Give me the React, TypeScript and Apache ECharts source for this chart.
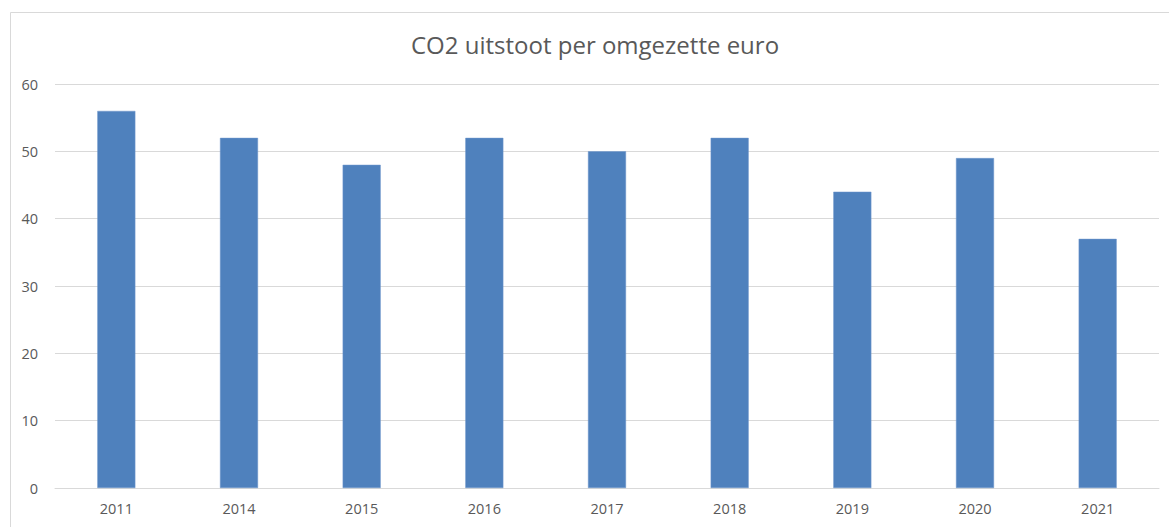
import React, { useEffect, useRef } from "react";
import * as echarts from "echarts";

const categories = ["2011", "2014", "2015", "2016", "2017", "2018", "2019", "2020", "2021"];
const values = [56, 52, 48, 52, 50, 52, 44, 49, 37];
const titleText = "CO2 uitstoot per omgezette euro";

export default function App() {
  const ref = useRef<HTMLDivElement>(null);
  useEffect(() => {
    if (!ref.current) return;
    const chart = echarts.init(ref.current, null, { renderer: "svg" });
    const font = "'Open Sans', 'Liberation Sans', sans-serif";
    chart.setOption({
      animation: false,
      backgroundColor: "#ffffff",
      title: {
        text: titleText,
        left: 406,
        top: 27,
        padding: 5,
        textStyle: { fontFamily: font, fontSize: 24, fontWeight: "normal", color: "#595959" },
      },
      graphic: [
        {
          type: "rect",
          shape: { x: 10.5, y: 12.5, width: 1200, height: 600 },
          style: { fill: "none", stroke: "#d9d9d9", lineWidth: 1 },
          silent: true,
        },
      ],
      grid: { left: 55, right: 10, top: 84, bottom: 39, containLabel: false },
      xAxis: {
        type: "category",
        data: categories,
        axisLine: { show: true, lineStyle: { color: "#d9d9d9" } },
        axisTick: { show: false },
        axisLabel: { color: "#595959", fontFamily: font, fontSize: 14.5, margin: 13 },
      },
      yAxis: {
        type: "value",
        min: 0,
        max: 60,
        interval: 10,
        axisLine: { show: false },
        axisTick: { show: false },
        splitLine: { lineStyle: { color: "#d9d9d9" } },
        axisLabel: { color: "#595959", fontFamily: font, fontSize: 14.5, margin: 17 },
      },
      series: [
        {
          type: "bar",
          data: values,
          barWidth: "31%",
          itemStyle: { color: "#4f81bd", borderColor: "#6f97cc", borderWidth: 0.5 },
        },
      ],
    });
    return () => chart.dispose();
  }, []);
  return (
    <div
      ref={ref}
      style={{ position: "fixed", left: 0, top: 0, width: 1169, height: 527 }}
    />
  );
}
